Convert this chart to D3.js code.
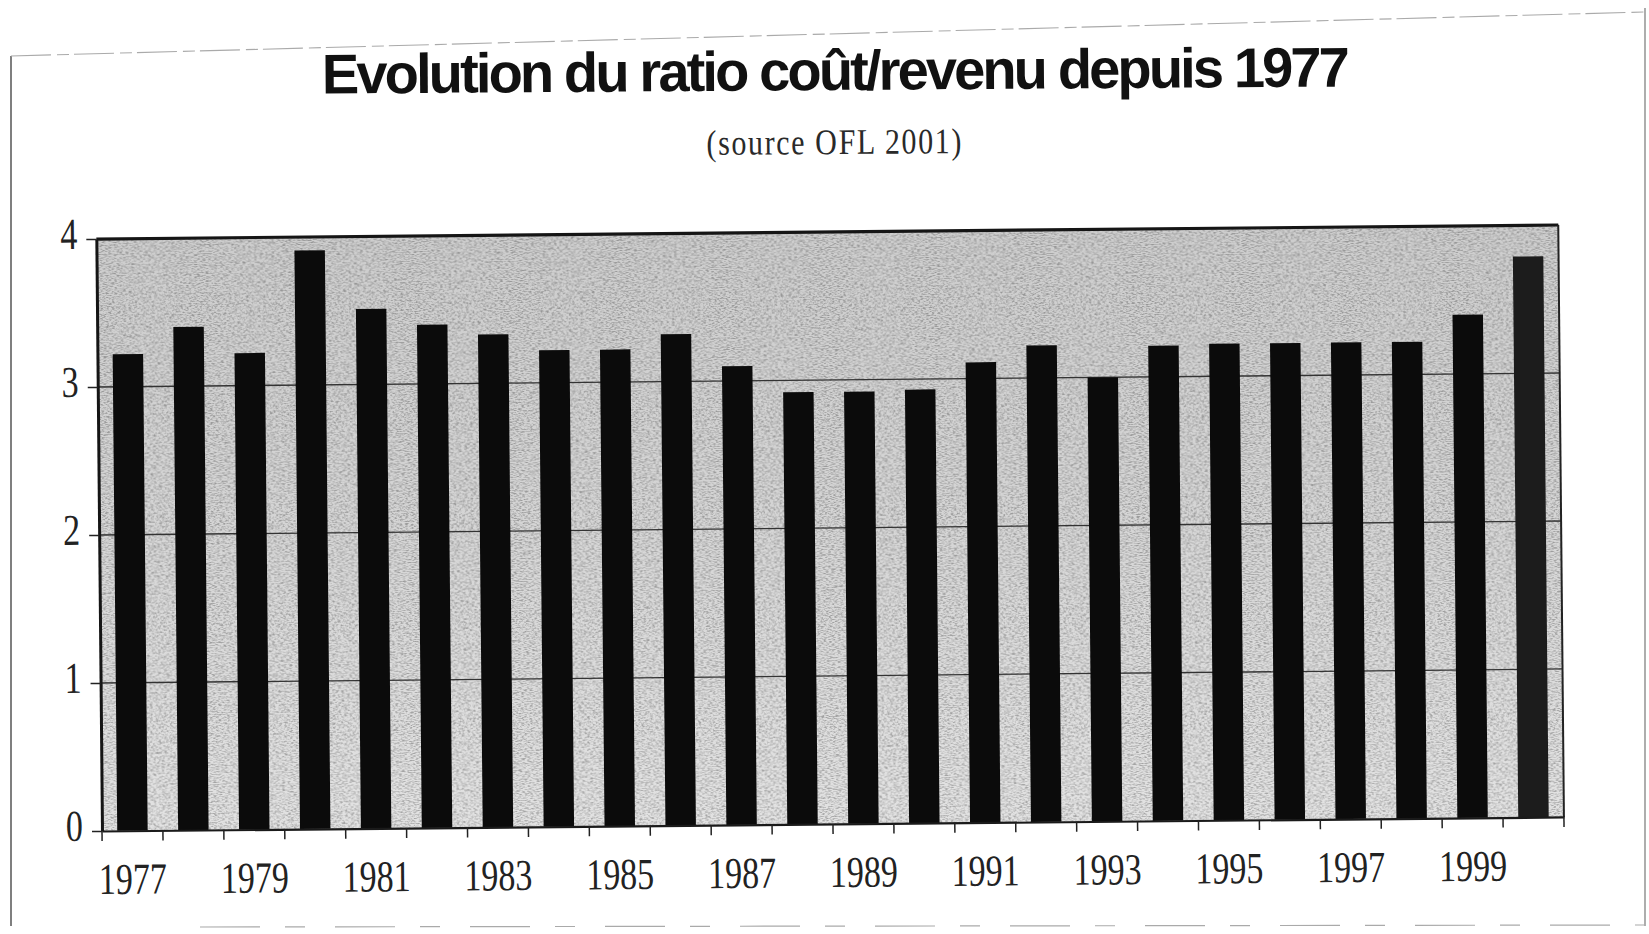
<!DOCTYPE html>
<html>
<head>
<meta charset="utf-8">
<script src="https://cdn.jsdelivr.net/npm/d3@7"></script>
<style>
  html, body { margin: 0; padding: 0; background: #fff; }
  svg { display: block; }
</style>
</head>
<body>
<svg id="chart" width="1649" height="934"></svg>
<script>
// Ratio coût/revenu, 1977–2000
const years = [1977, 1978, 1979, 1980, 1981, 1982, 1983, 1984, 1985, 1986, 1987, 1988,
               1989, 1990, 1991, 1992, 1993, 1994, 1995, 1996, 1997, 1998, 1999, 2000];
const ratios = [3.22, 3.40, 3.22, 3.91, 3.51, 3.40, 3.33, 3.22, 3.22, 3.32, 3.10, 2.92,
                2.92, 2.93, 3.11, 3.22, 3.00, 3.21, 3.22, 3.22, 3.22, 3.22, 3.40, 3.79];
const yTicks = [0, 1, 2, 3, 4];
const xLabelYears = [1977, 1979, 1981, 1983, 1985, 1987, 1989, 1991, 1993, 1995, 1997, 1999];
const titleText = "Evolution du ratio coût/revenu depuis 1977";
const subtitleText = "(source OFL 2001)";

const svg = d3.select("#chart");
const defs = svg.append("defs");

// plot fill: grey shading with a fine grain
const grad = defs.append("linearGradient").attr("id", "plotFill")
  .attr("x1", 0).attr("y1", 0).attr("x2", 0).attr("y2", 1);
grad.append("stop").attr("offset", "0%").attr("stop-color", "#cdcdcd");
grad.append("stop").attr("offset", "45%").attr("stop-color", "#d4d4d4");
grad.append("stop").attr("offset", "100%").attr("stop-color", "#e2e2e2");

const grain = defs.append("filter").attr("id", "grain")
  .attr("x", 0).attr("y", 0).attr("width", 1).attr("height", 1)
  .attr("color-interpolation-filters", "sRGB");
grain.append("feTurbulence").attr("type", "fractalNoise")
  .attr("baseFrequency", "0.35 0.9").attr("numOctaves", 2).attr("seed", 7)
  .attr("result", "noise");
grain.append("feColorMatrix").attr("in", "noise").attr("type", "matrix")
  .attr("values", "0 0 0 0 0  0 0 0 0 0  0 0 0 0 0  3.2 0 0 0 -1.35");

// page frame
const frame = svg.append("g").attr("fill", "none");
frame.append("line").attr("x1", 11).attr("y1", 56).attr("x2", 11).attr("y2", 926)
  .attr("stroke", "#555").attr("stroke-width", 1.5);
frame.append("line").attr("x1", 1645).attr("y1", 8).attr("x2", 1645).attr("y2", 926)
  .attr("stroke", "#777").attr("stroke-width", 1.2);
frame.append("line").attr("x1", 11).attr("y1", 56).attr("x2", 1645).attr("y2", 12)
  .attr("stroke", "#aaa").attr("stroke-width", 1.1).attr("stroke-dasharray", "40 6 12 5");
frame.append("line").attr("x1", 200).attr("y1", 927).attr("x2", 1645).attr("y2", 925)
  .attr("stroke", "#aaa").attr("stroke-width", 1.2).attr("stroke-dasharray", "60 25 20 30");

// title and source line
svg.append("text")
  .attr("transform", "translate(836,90) rotate(-0.4)")
  .attr("text-anchor", "middle")
  .attr("font-family", "'Liberation Sans', Arial, sans-serif")
  .attr("font-weight", "bold")
  .attr("font-size", 56)
  .attr("fill", "#111")
  .attr("textLength", 1028)
  .attr("lengthAdjust", "spacing")
  .text(titleText);

svg.append("text")
  .attr("transform", "translate(834,154) rotate(-0.4) scale(1,1.2)")
  .attr("text-anchor", "middle")
  .attr("font-family", "'Liberation Serif', 'Times New Roman', serif")
  .attr("font-size", 30)
  .attr("fill", "#2a2a2a")
  .attr("textLength", 255)
  .attr("lengthAdjust", "spacing")
  .text(subtitleText);

// plot area (slightly tilted, pivoting on the lower-left corner)
const plotLeft = 102, plotRight = 1564, plotBottom = 831, plotTop = 239;
const g = svg.append("g").attr("transform", `rotate(-0.55, ${plotLeft}, ${plotBottom})`);

const x = d3.scaleBand().domain(years).range([plotLeft, plotRight])
  .paddingInner(0.5).paddingOuter(0.25);
const y = d3.scaleLinear().domain([0, 4]).range([plotBottom, plotTop]);

g.append("rect")
  .attr("x", plotLeft).attr("y", plotTop)
  .attr("width", plotRight - plotLeft).attr("height", plotBottom - plotTop)
  .attr("fill", "url(#plotFill)");
g.append("rect")
  .attr("x", plotLeft).attr("y", plotTop)
  .attr("width", plotRight - plotLeft).attr("height", plotBottom - plotTop)
  .attr("fill", "#fff")
  .attr("filter", "url(#grain)").attr("opacity", 0.26);

// gridlines
g.append("g").selectAll("line").data(yTicks.filter(d => d > 0 && d < 4)).join("line")
  .attr("x1", plotLeft).attr("x2", plotRight)
  .attr("y1", d => y(d)).attr("y2", d => y(d))
  .attr("stroke", "#333").attr("stroke-width", 1.3);

// bars
g.append("g").selectAll("rect").data(years).join("rect")
  .attr("x", d => x(d))
  .attr("width", x.bandwidth())
  .attr("y", (d, i) => y(ratios[i]))
  .attr("height", (d, i) => y(0) - y(ratios[i]))
  .attr("fill", (d, i) => i === years.length - 1 ? "#1c1c1c" : "#0b0b0b");

// plot border
g.append("line").attr("x1", plotLeft).attr("x2", plotRight)
  .attr("y1", plotTop).attr("y2", plotTop)
  .attr("stroke", "#151515").attr("stroke-width", 3.2);
g.append("line").attr("x1", plotRight).attr("x2", plotRight)
  .attr("y1", plotTop).attr("y2", plotBottom)
  .attr("stroke", "#222").attr("stroke-width", 2);

// y axis
const yAxis = g.append("g").attr("transform", `translate(${plotLeft},0)`)
  .call(d3.axisLeft(y).tickValues(yTicks).tickFormat(d3.format("d")).tickSize(10).tickSizeOuter(0));
yAxis.select(".domain").attr("stroke", "#151515").attr("stroke-width", 3);
yAxis.selectAll(".tick line").attr("stroke", "#222").attr("stroke-width", 1.5);
yAxis.selectAll(".tick text")
  .attr("x", -19).attr("y", 7).attr("dy", 0)
  .attr("transform", "scale(1,1.3)")
  .attr("font-family", "'Liberation Serif', 'Times New Roman', serif")
  .attr("font-size", 34).attr("fill", "#222");

// x axis: labels under every other year, ticks between bars
const xAxis = g.append("g").attr("transform", `translate(0,${plotBottom})`)
  .call(d3.axisBottom(x).tickValues(xLabelYears).tickSize(0).tickSizeOuter(0));
xAxis.select(".domain").attr("stroke", "#1a1a1a").attr("stroke-width", 2.2);
xAxis.selectAll(".tick text")
  .attr("y", 48.5).attr("dy", 0)
  .attr("transform", "scale(1,1.3)")
  .attr("font-family", "'Liberation Serif', 'Times New Roman', serif")
  .attr("font-size", 34).attr("fill", "#222");

const bounds = years.map(d => x(d) - x.step() * x.paddingInner() / 2);
bounds[0] = plotLeft;
bounds.push(plotRight);
g.append("g").selectAll("line").data(bounds).join("line")
  .attr("x1", d => d).attr("x2", d => d)
  .attr("y1", plotBottom).attr("y2", plotBottom + 10)
  .attr("stroke", "#222").attr("stroke-width", 1.5);
</script>
</body>
</html>
